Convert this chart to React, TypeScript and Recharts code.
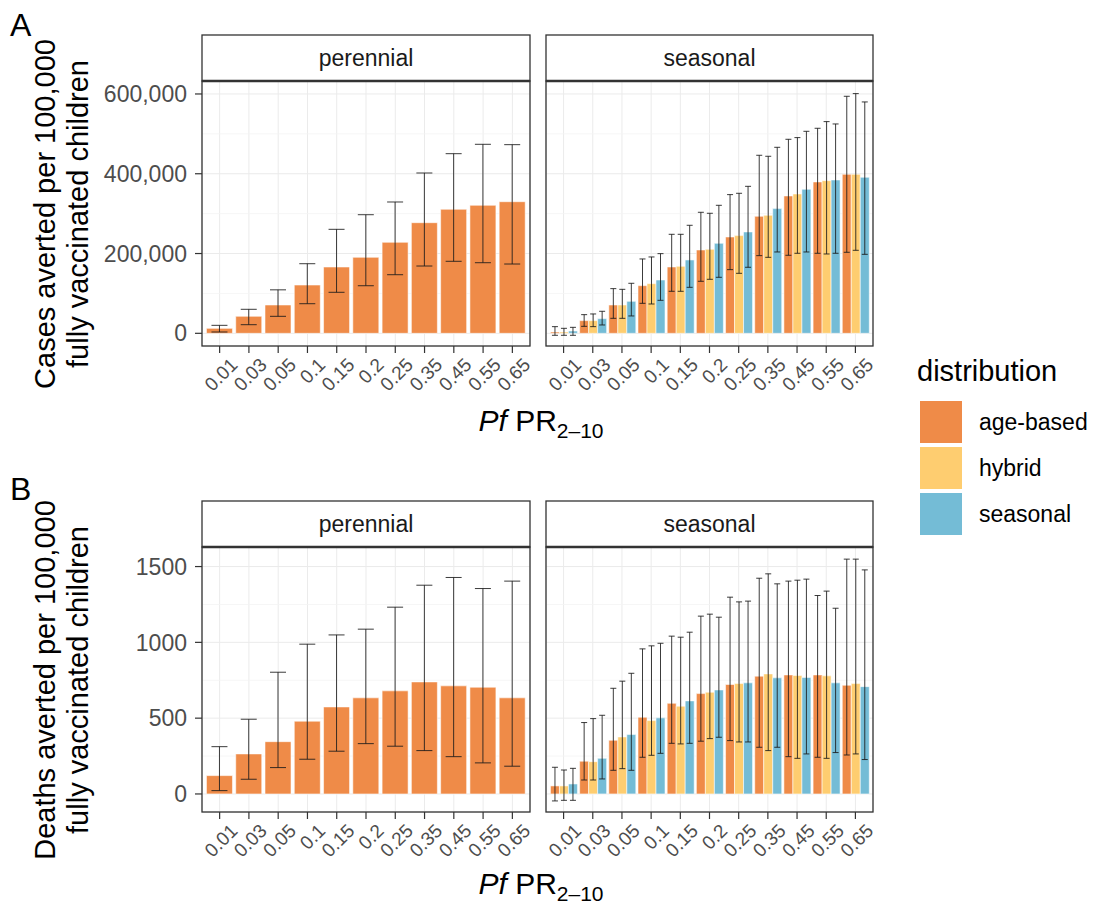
import { BarChart, Bar, XAxis, YAxis, CartesianGrid, ErrorBar } from 'recharts';

const FONT = '"Liberation Sans", Arial, Helvetica, sans-serif';

// prevalence categories (Pf PR 2-10)
const categories = ['0.01', '0.03', '0.05', '0.1', '0.15', '0.2', '0.25', '0.35', '0.45', '0.55', '0.65'];

const seriesNames = ['age-based', 'hybrid', 'seasonal'];
const seriesColors = ['#EF8B48', '#FECD70', '#74BCD6'];

// A: cases averted, perennial
const casesPerMean = [12500, 42600, 71000, 121000, 166200, 190500, 228100, 277300, 310900, 320900, 329900];
const casesPerLow = [3300, 21600, 42600, 74200, 102800, 119300, 146900, 168700, 180500, 177000, 173700];
const casesPerHigh = [20000, 60200, 109000, 174500, 260700, 297300, 329200, 401900, 450300, 473800, 472900];

// A: cases averted, seasonal setting (age-based / hybrid / seasonal distribution)
const casesSeaAgeMean = [3300, 31800, 71000, 119500, 166300, 208900, 241500, 293300, 344300, 379400, 398600];
const casesSeaAgeLow = [-5000, 17500, 37600, 75200, 105300, 130400, 159600, 194700, 195600, 200600, 203100];
const casesSeaAgeHigh = [16700, 46800, 112000, 186400, 248200, 303400, 347700, 446300, 486400, 514000, 594200];
const casesSeaHybMean = [3300, 31800, 71000, 124500, 168000, 210600, 244900, 295800, 349300, 382700, 398600];
const casesSeaHybLow = [-5000, 16700, 37600, 73500, 105300, 135400, 150400, 190500, 200600, 198900, 208100];
const casesSeaHybHigh = [12500, 48500, 110300, 191400, 248200, 300900, 351000, 443800, 490600, 530700, 600900];
const casesSeaSeaMean = [5800, 36800, 80200, 133700, 183900, 225600, 254100, 312600, 361000, 384400, 391100];
const casesSeaSeaLow = [-5000, 20900, 43500, 82700, 115300, 140400, 165500, 203900, 203900, 200600, 198000];
const casesSeaSeaHigh = [15000, 55200, 125400, 199700, 270800, 320900, 368500, 466300, 506400, 524800, 580000];

// B: deaths averted, perennial
const deathsPerMean = [121, 264, 345, 480, 574, 634, 680, 739, 713, 704, 634];
const deathsPerLow = [22, 97, 174, 229, 282, 332, 315, 286, 246, 205, 183];
const deathsPerHigh = [312, 493, 803, 988, 1049, 1087, 1232, 1377, 1428, 1355, 1404];

// B: deaths averted, seasonal setting
const deathsSeaAgeMean = [53, 216, 354, 506, 598, 662, 722, 777, 785, 785, 717];
const deathsSeaAgeLow = [-46, 92, 156, 242, 334, 348, 352, 308, 246, 242, 257];
const deathsSeaAgeHigh = [176, 471, 697, 957, 1041, 1173, 1298, 1423, 1404, 1309, 1549];
const deathsSeaHybMean = [53, 213, 376, 484, 579, 671, 728, 792, 781, 779, 728];
const deathsSeaHybLow = [-42, 92, 167, 255, 330, 365, 343, 286, 235, 235, 264];
const deathsSeaHybHigh = [158, 497, 744, 977, 1034, 1186, 1267, 1452, 1410, 1338, 1549];
const deathsSeaSeaMean = [66, 235, 392, 502, 614, 686, 733, 766, 768, 733, 708];
const deathsSeaSeaLow = [-42, 99, 156, 268, 334, 374, 343, 308, 264, 273, 227];
const deathsSeaSeaHigh = [169, 519, 796, 994, 1067, 1166, 1272, 1386, 1417, 1225, 1478];

const casesTicks = [0, 200000, 400000, 600000];
const casesMinor = [100000, 300000, 500000];
const deathsTicks = [0, 500, 1000, 1500];
const deathsMinor = [250, 750, 1250];

type Triple = [number[], number[], number[]];

function buildRows(series: Triple[]) {
  return categories.map((cat, i) => {
    const row: any = { cat };
    series.forEach(([m, lo, hi], k) => {
      row['s' + k] = m[i];
      row['e' + k] = [m[i] - lo[i], hi[i] - m[i]];
    });
    return row;
  });
}

const casesPerRows = buildRows([[casesPerMean, casesPerLow, casesPerHigh]]);
const casesSeaRows = buildRows([
  [casesSeaAgeMean, casesSeaAgeLow, casesSeaAgeHigh],
  [casesSeaHybMean, casesSeaHybLow, casesSeaHybHigh],
  [casesSeaSeaMean, casesSeaSeaLow, casesSeaSeaHigh],
]);
const deathsPerRows = buildRows([[deathsPerMean, deathsPerLow, deathsPerHigh]]);
const deathsSeaRows = buildRows([
  [deathsSeaAgeMean, deathsSeaAgeLow, deathsSeaAgeHigh],
  [deathsSeaHybMean, deathsSeaHybLow, deathsSeaHybHigh],
  [deathsSeaSeaMean, deathsSeaSeaLow, deathsSeaSeaHigh],
]);

const PLOT_H = 265;
const ROW_TOPS = [81, 547];
const PANELS = [
  { left: 202, width: 328, strip: 'perennial' },
  { left: 546, width: 327, strip: 'seasonal' },
];
const STRIP_H = 46;

const RotTick = (props: any) => {
  const { x, y, payload } = props;
  const ax = x + 19;
  const ay = y + 11;
  return (
    <text x={ax} y={ay} transform={`rotate(-45, ${ax}, ${ay})`} textAnchor="end"
      fontSize={19} fill="#4D4D4D" fontFamily={FONT}>
      {payload.value}
    </text>
  );
};

const fmtComma = (v: number) => v.toLocaleString('en-US');
const fmtPlain = (v: number) => String(v);

function Panel({ data, nSeries, top, panel, showY, domain, ticks, minor, errWidth, fmt }: any) {
  const p = PANELS[panel];
  const leftPad = showY ? 0 : 10;
  const yW = showY ? p.left : 0;
  return (
    <div style={{ position: 'absolute', left: showY ? 0 : p.left - 10, top: top - 10 }}>
      <BarChart
        width={leftPad + yW + p.width + 10}
        height={10 + PLOT_H + 70}
        data={data}
        margin={{ top: 10, right: 10, bottom: 0, left: leftPad }}
        barCategoryGap="5%"
        barGap={0}
      >
        <CartesianGrid stroke="#EBEBEB" strokeWidth={1} />
        <CartesianGrid yAxisId="minor" vertical={false} stroke="#F4F4F4" strokeWidth={0.8} />
        <XAxis dataKey="cat" type="category" interval={0} height={70} padding={{ left: 3, right: 3 }}
          axisLine={false} tickSize={7} tickMargin={2} tickLine={{ stroke: '#333', strokeWidth: 1.2 }}
          tick={<RotTick />} />
        <YAxis type="number" domain={domain} ticks={ticks} allowDataOverflow hide={!showY} width={yW}
          axisLine={false} tickSize={7} tickMargin={8} tickLine={{ stroke: '#333', strokeWidth: 1.2 }}
          tickFormatter={fmt} tick={{ fontSize: 23, fill: '#4D4D4D', fontFamily: FONT }} />
        <YAxis yAxisId="minor" type="number" domain={domain} ticks={minor} allowDataOverflow hide />
        {Array.from({ length: nSeries }).map((_, k) => {
          const colorIdx = nSeries === 1 ? 0 : k;
          return (
            <Bar key={k} dataKey={'s' + k} fill={seriesColors[colorIdx]} stroke="#FFFFFF" strokeOpacity={0.55}
              strokeWidth={1} isAnimationActive={false}>
              <ErrorBar dataKey={'e' + k} width={errWidth} stroke="#1A1A1A" strokeOpacity={0.85} strokeWidth={1}
                isAnimationActive={false} />
            </Bar>
          );
        })}
      </BarChart>
    </div>
  );
}

function Overlay() {
  return (
    <svg width={1094} height={907} style={{ position: 'absolute', left: 0, top: 0, pointerEvents: 'none' }}
      fontFamily={FONT}>
      {ROW_TOPS.map((top, r) => (
        <g key={r}>
          {PANELS.map((p, i) => (
            <g key={i}>
              <rect x={p.left} y={top} width={p.width} height={PLOT_H} fill="none" stroke="#333" strokeWidth={1.3} />
              <rect x={p.left} y={top - STRIP_H} width={p.width} height={STRIP_H} fill="#fff" stroke="#333" strokeWidth={1.3} />
              <line x1={p.left} x2={p.left + p.width} y1={top} y2={top} stroke="#333" strokeWidth={2.6} />
              <text x={p.left + p.width / 2} y={top - 15} textAnchor="middle" fontSize={23} fill="#1A1A1A">{p.strip}</text>
            </g>
          ))}
        </g>
      ))}

      <text x={10} y={36} fontSize={32} fill="#000">A</text>
      <text x={10} y={500} fontSize={32} fill="#000">B</text>

      <g fontSize={29} fill="#000" textAnchor="middle">
        <text x={55} y={214} transform="rotate(-90, 55, 214)">Cases averted per 100,000</text>
        <text x={88} y={214} transform="rotate(-90, 88, 214)">fully vaccinated children</text>
        <text x={55} y={680} transform="rotate(-90, 55, 680)">Deaths averted per 100,000</text>
        <text x={88} y={680} transform="rotate(-90, 88, 680)">fully vaccinated children</text>
      </g>

      {[431, 894].map((by, i) => (
        <text key={i} x={541} y={by} textAnchor="middle" fontSize={30} fill="#000">
          <tspan fontStyle="italic">Pf</tspan>
          <tspan> PR</tspan>
          <tspan fontSize={21} dy={7}>2–10</tspan>
        </text>
      ))}

      <text x={917} y={381} fontSize={29} fill="#000">distribution</text>
      {seriesNames.map((name, i) => (
        <g key={name}>
          <rect x={920} y={401 + i * 46} width={42} height={42} fill={seriesColors[i]} />
          <text x={979} y={430 + i * 46} fontSize={23} fill="#000">{name}</text>
        </g>
      ))}
    </svg>
  );
}

export default function App() {
  return (
    <div style={{ position: 'absolute', left: 0, top: 0, width: 1094, height: 907, background: '#fff', fontFamily: FONT }}>
      <Panel data={casesPerRows} nSeries={1} top={ROW_TOPS[0]} panel={0} showY fmt={fmtComma}
        domain={[-31800, 632500]} ticks={casesTicks} minor={casesMinor} errWidth={8} />
      <Panel data={casesSeaRows} nSeries={3} top={ROW_TOPS[0]} panel={1} showY={false} fmt={fmtComma}
        domain={[-31800, 632500]} ticks={casesTicks} minor={casesMinor} errWidth={3} />
      <Panel data={deathsPerRows} nSeries={1} top={ROW_TOPS[1]} panel={0} showY fmt={fmtPlain}
        domain={[-119, 1629]} ticks={deathsTicks} minor={deathsMinor} errWidth={8} />
      <Panel data={deathsSeaRows} nSeries={3} top={ROW_TOPS[1]} panel={1} showY={false} fmt={fmtPlain}
        domain={[-119, 1629]} ticks={deathsTicks} minor={deathsMinor} errWidth={3} />
      <Overlay />
    </div>
  );
}
